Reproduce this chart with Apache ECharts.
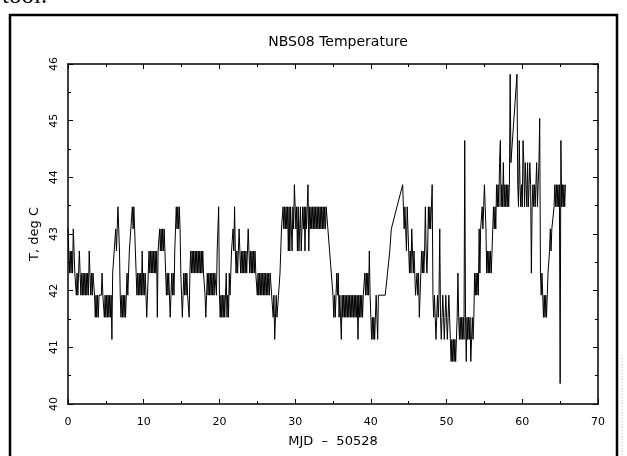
<!DOCTYPE html>
<html>
<head>
<meta charset="utf-8">
<script src="https://cdn.jsdelivr.net/npm/echarts@6/dist/echarts.min.js"></script>
<style>
  html, body { margin: 0; padding: 0; background: #fff; }
  #chart { width: 627px; height: 456px; }
</style>
</head>
<body>
<div id="chart"></div>
<script>
// quantised sensor levels, deg C
const levels = {
  z: 40.36, a: 40.75, b: 41.14, c: 41.53, d: 41.92, e: 42.31, f: 42.70,
  g: 43.09, h: 43.48, i: 43.87, j: 44.26, k: 44.65, l: 45.04, m: 45.43, n: 45.82
};

// one row per day (MJD - 50528), one reading every 0.1 day, '.' = no reading
const sampleStep = 0.1;
const dayRows = [
  "gfefefegfe", "ededefeded", "ededededfe", "dedeedcdcd", "cddddeddcd",
  "cdcdcdcdbe", "effgfghgfd", "cdcdcdcded", "effgghghgf", "ededededfd",
  "ededcdefef", "efefefefcf", "fgfgfgfgfe", "dededcdede", "dfghghghge",
  "dcdedededd", "cefefefefe", "fefefefefe", "edcdededed", "ededeedfgh",
  "dcdcdcdcde", "cdcedeffgf", "hfefefgfef", "efefefefgf", "efefefefee",
  "dedededede", "dedededeed", "dcdbcdccdd", "efgghghghg", "hfhfhgfhgi",
  "hghfhfghfg", "hghfhghifh", "ghghghghgh", "ghghghghgh", "gh........",
  "dcdcdedecd", "cbdcdcdcdc", "dcdcdcdcdc", "dcdbdcdcdc", "ddedededfd",
  "cbcbcbcdcb", "dddddddddd", "ddeeeffgg.", "..........", "..ihghgfhg",
  "fefegfefed", "dedecdefef", "efhfefhghg", "gidcdcbcdc", "dgcbcdcbcd",
  "cbcdcbabab", "ababcecbcb", "cbcbkcacbc", "bcabcbcede", "dedgegghgh",
  "ihgefefefe", "fghghgihih", "jkhihjhihi", "hihinj....", "...nihkihi",
  "hkjhjihjhi", "jiehihihij", "hijlededcd", "cdcdeefgfg", "gghihihihi",
  "zkhihihi"
];

const xTicks = [0, 70, 10];
const yTicks = [40, 46, 1];

const points = [];
dayRows.forEach(function (row, day) {
  for (let i = 0; i < row.length; i++) {
    const c = row[i];
    if (c === '.') continue;
    points.push([+(day + i * sampleStep).toFixed(2), levels[c]]);
  }
});

const font = 'DejaVu Sans';
const axisCommon = {
  axisLine: { show: true, onZero: false, lineStyle: { color: '#000', width: 1.5 } },
  axisTick: { show: true, inside: true, length: 5, lineStyle: { color: '#000', width: 1 } },
  minorTick: { show: true, splitNumber: 2, length: 3, lineStyle: { color: '#000', width: 1 } },
  splitLine: { show: false }
};

const chart = echarts.init(document.getElementById('chart'));
chart.setOption({
  animation: false,
  backgroundColor: '#fff',
  title: {
    text: 'NBS08 Temperature',
    left: 333, top: 30, textAlign: 'center',
    textStyle: { fontFamily: font, fontSize: 14, fontWeight: 'normal', color: '#000' }
  },
  grid: { left: 68, right: 29, top: 64, bottom: 52 },
  xAxis: [
    Object.assign({
      type: 'value', position: 'bottom',
      min: xTicks[0], max: xTicks[1], interval: xTicks[2],
      name: 'MJD  –  50528', nameLocation: 'middle', nameGap: 31,
      nameTextStyle: { fontFamily: font, fontSize: 13, color: '#000' },
      axisLabel: { margin: 13, fontFamily: font, fontSize: 11, color: '#000' }
    }, axisCommon),
    Object.assign({
      type: 'value', position: 'top',
      min: xTicks[0], max: xTicks[1], interval: xTicks[2],
      axisLabel: { show: false }
    }, axisCommon)
  ],
  yAxis: [
    Object.assign({
      type: 'value', position: 'left',
      min: yTicks[0], max: yTicks[1], interval: yTicks[2],
      name: 'T, deg C', nameLocation: 'middle', nameGap: 27, nameRotate: 90,
      nameTextStyle: { fontFamily: font, fontSize: 13, color: '#000' },
      axisLabel: { rotate: 90, margin: 8, fontFamily: font, fontSize: 11, color: '#000' }
    }, axisCommon),
    Object.assign({
      type: 'value', position: 'right',
      min: yTicks[0], max: yTicks[1], interval: yTicks[2],
      axisLabel: { show: false }
    }, axisCommon)
  ],
  series: [{
    type: 'line',
    data: points,
    showSymbol: false,
    symbol: 'none',
    lineStyle: { color: '#000', width: 1 },
    xAxisIndex: 0, yAxisIndex: 0
  }],
  graphic: [
    {
      type: 'rect', silent: true,
      shape: { x: 10, y: 15, width: 607, height: 460 },
      style: { fill: 'none', stroke: '#000', lineWidth: 2.5 }
    },
    {
      type: 'line', silent: true,
      shape: { x1: 622, y1: 355, x2: 622, y2: 456 },
      style: { stroke: '#bbb', lineWidth: 1, lineDash: [1, 2] }
    },
    {
      type: 'text', silent: true,
      style: { text: 'tool.', x: 2, y: 9, fontFamily: 'Liberation Serif', fontSize: 25, fill: '#000', verticalAlign: 'bottom' }
    }
  ]
});
</script>
</body>
</html>
